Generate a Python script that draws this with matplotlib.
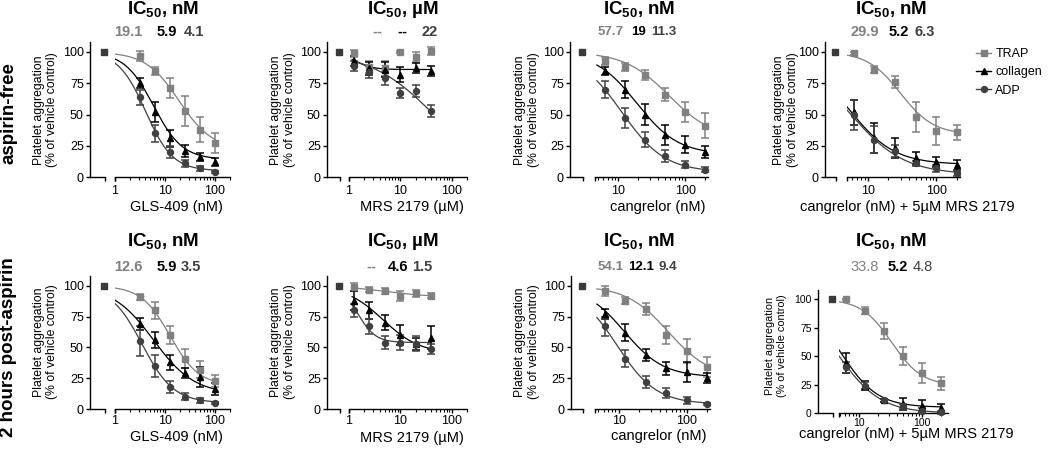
import numpy as np
import matplotlib
matplotlib.use('Agg')
import matplotlib.pyplot as plt
from matplotlib.lines import Line2D
from matplotlib.ticker import FixedLocator, FixedFormatter, LogLocator, NullFormatter

plt.rcParams['font.family'] = ['Liberation Sans', 'DejaVu Sans']
plt.rcParams['mathtext.fontset'] = 'custom'
plt.rcParams['mathtext.rm'] = 'Liberation Sans'
plt.rcParams['mathtext.bf'] = 'Liberation Sans:bold'

W, H = 1050, 449

series = ['TRAP', 'collagen', 'ADP']
colors = ['#808080', '#000000', '#404040']
markers = ['s', '^', 'o']
control = 100

gls_x = [3.125, 6.25, 12.5, 25, 50, 100]
mrs_x = [1.25, 2.5, 5, 10, 20, 40]
cang_x = [6.25, 12.5, 25, 50, 100, 200]

# fits are (top, bottom, IC50, hill) of the 4-parameter dose-response curve
# --- aspirin-free ---
p1_trap = [97, 85, 71, 53, 38, 27]
p1_trap_sd = [4, 3, 8, 12, 10, 8]
p1_coll = [75, 52, 31, 21, 16, 12]
p1_coll_sd = [4, 8, 7, 5, 3.5, 3.5]
p1_adp = [64, 35, 20, 11, 7, 4]
p1_adp_sd = [6, 7, 5, 3, 2, 1]
p1_fits = [(100, 22, 19.1, 1.3), (100, 14, 5.9, 1.5), (100, 5, 4.1, 1.6)]
p1_ic50 = ['19.1', '5.9', '4.1']

p2_trap = [99, 88, 87, 100, 96, 101]
p2_trap_sd = [3, 5, 6, 1, 4, 3]
p2_coll = [93, 87, 86, 82, 87, 85]
p2_coll_sd = [4, 5, 6, 6, 4, 4]
p2_adp = [89, 84, 79, 67, 69, 53]
p2_adp_sd = [4, 5, 5, 4, 5, 5]
p2_fits = [None, (100, 86, 1.3, 2.5), (100, 0, 45, 0.7)]
p2_ic50 = ['--', '--', '22']

p3_trap = [93, 88, 82, 66, 52, 41]
p3_trap_sd = [3, 3, 4, 5, 8, 10]
p3_coll = [85, 70, 50, 34, 26, 20]
p3_coll_sd = [3, 7, 8.5, 8, 7, 5]
p3_adp = [70, 47, 30, 17, 10, 6]
p3_adp_sd = [7, 8, 6, 5, 3, 2]
p3_fits = [(100, 30, 57.7, 1.3), (100, 18, 19, 1.4), (100, 4, 11.3, 1.35)]
p3_ic50 = ['57.7', '19', '11.3']

p4_trap = [99, 86, 76, 48, 37, 36]
p4_trap_sd = [1, 3, 5, 12, 11, 6]
p4_coll = [52, 31, 23, 15, 12, 10]
p4_coll_sd = [10, 12, 8, 5, 4, 4]
p4_adp = [50, 30, 21, 11, 7, 3]
p4_adp_sd = [12, 11, 5, 2, 3, 2]
p4_fits = [(100, 34, 30, 1.8), (100, 10, 5.2, 1.3), (100, 2, 5.5, 1.1)]
p4_ic50 = ['29.9', '5.2', '6.3']

# --- 2 hours post-aspirin ---
p5_trap = [91, 80, 60, 41, 32, 23]
p5_trap_sd = [2.5, 7, 7, 8, 7, 5]
p5_coll = [69, 56, 38, 29, 26, 16]
p5_coll_sd = [5, 6.5, 6, 4, 8, 5]
p5_adp = [55, 35, 18, 10, 7, 5]
p5_adp_sd = [12, 9, 5, 3, 2, 1]
p5_fits = [(100, 19, 12.6, 1.5), (100, 12, 5.9, 1.06), (100, 5, 3.5, 1.38)]
p5_ic50 = ['12.6', '5.9', '3.5']

p6_trap = [99, 97, 96, 92, 94, 92]
p6_trap_sd = [3, 2, 2.5, 4, 3, 2]
p6_coll = [88, 80, 70, 60, 53, 58]
p6_coll_sd = [8, 7, 6, 8, 5, 9.5]
p6_adp = [80, 67, 54, 54, 53, 49]
p6_adp_sd = [5, 6, 5, 6, 6, 4]
p6_fits = [(100, 91, 5, 1.0), (100, 45, 4.6, 1.2), (100, 54, 1.5, 2.5)]
p6_ic50 = ['--', '4.6', '1.5']

p7_trap = [96, 88, 81, 60, 47, 34]
p7_trap_sd = [4, 3, 5, 7, 9.5, 8]
p7_coll = [77, 62, 44, 33, 30, 25]
p7_coll_sd = [4, 7, 5, 5, 8, 4]
p7_adp = [67, 41, 22, 13, 7, 4]
p7_adp_sd = [8, 7, 5, 4, 3, 1]
p7_fits = [(100, 25, 54.1, 1.4), (100, 26, 12.1, 1.5), (100, 4, 9.4, 1.5)]
p7_ic50 = ['54.1', '12.1', '9.4']

p8_trap = [100, 90, 72, 50, 35, 26]
p8_trap_sd = [0.5, 3, 7, 8, 9, 6]
p8_coll = [44, 24, 11, 8, 6, 4]
p8_coll_sd = [9, 4, 1, 5, 5, 4]
p8_adp = [40, 24, 11, 6, 2, 0.5]
p8_adp_sd = [5, 3, 1, 2, 2, 1]
p8_fits = [(100, 24, 33, 1.8), (100, 5, 5.2, 1.5), (100, 0, 4.8, 1.3)]
p8_ic50 = ['33.8', '5.2', '4.8']


def fx(px):
    return px / W


def fy(py):
    return 1 - py / H


def dose_response(x, top, bottom, ic50, hill):
    return bottom + (top - bottom) / (1 + (x / ic50) ** hill)


fig = plt.figure(figsize=(W / 100, H / 100), dpi=100)


def draw_panel(ctrl, main, ytop, ybot, xlim, xticks, curve_from, x, ys, sds, fits,
               xlabel, xlab_pos, ylab_pos, title, title_pos, ic50, ic50_x, ic50_y,
               tick_fs=9, ylab_fs=8.8, val_fs=10.5, val_bold=(True, True, True), xpad=2.5):
    hgt = (ybot - ytop) / H
    axc = fig.add_axes([fx(ctrl[0]), fy(ybot), (ctrl[1] - ctrl[0]) / W, hgt])
    axm = fig.add_axes([fx(main[0]), fy(ybot), (main[1] - main[0]) / W, hgt])
    for ax in (axc, axm):
        ax.set_ylim(0, 108)
        ax.patch.set_alpha(0)
        for s in ('top', 'right'):
            ax.spines[s].set_visible(False)
        ax.spines['bottom'].set_linewidth(1.0)
        ax.spines['left'].set_linewidth(1.0)
        ax.tick_params(width=1.0, length=3, labelsize=tick_fs, pad=1.5)
    axm.spines['left'].set_visible(False)
    axm.set_yticks([])

    axc.set_xlim(0, 1)
    axc.set_xticks([1])
    axc.set_xticklabels([''])
    axc.set_yticks([0, 25, 50, 75, 100])
    axc.plot([0.9], [control], marker='s', color='#3a3a3a', ms=4.2, clip_on=False)

    axm.set_xscale('log')
    axm.set_xlim(*xlim)
    axm.xaxis.set_major_locator(FixedLocator([xlim[0]] + xticks))
    axm.xaxis.set_major_formatter(FixedFormatter([''] + [str(int(t)) for t in xticks]))
    axm.xaxis.set_minor_locator(LogLocator(base=10, subs=np.arange(2, 10)))
    axm.xaxis.set_minor_formatter(NullFormatter())
    axm.tick_params(axis='x', which='minor', length=2, width=0.8)
    axm.tick_params(axis='x', which='major', pad=xpad)

    xs = np.geomspace(curve_from, x[-1], 200)
    for i in range(3):
        if fits[i] is not None:
            axm.plot(xs, dose_response(xs, *fits[i]), color=colors[i], lw=0.9, zorder=2)
    for i in [0, 1, 2]:
        axm.errorbar(x, ys[i], yerr=sds[i], fmt=markers[i], color=colors[i], ms=4.3,
                     elinewidth=1.1, capsize=3, capthick=1.1, zorder=3, clip_on=False)

    fig.text(fx(xlab_pos[0]), fy(xlab_pos[1]), xlabel, fontsize=10.5, ha='center', va='center')
    fig.text(fx(ylab_pos[0]), fy(ylab_pos[1]), 'Platelet aggregation\n(% of vehicle control)',
             fontsize=ylab_fs, rotation=90, ha='center', va='center',
             multialignment='center', linespacing=1.15)
    fig.text(fx(title_pos[0]), fy(title_pos[1]), r'$\mathbf{IC_{50}}$, ' + title,
             fontsize=13.5, weight='bold', ha='center', va='center')
    for i in range(3):
        fig.text(fx(ic50_x[i]), fy(ic50_y), ic50[i], fontsize=val_fs, color=colors[i],
                 weight='bold' if val_bold[i] else 'normal', ha='center', va='center')
    return axm


top_t, top_b = 42, 177
bot_t, bot_b = 276, 409

draw_panel((90, 105), (115, 230), top_t, top_b, (1, 200), [1, 10, 100], 1, gls_x,
           [p1_trap, p1_coll, p1_adp], [p1_trap_sd, p1_coll_sd, p1_adp_sd], p1_fits,
           'GLS-409 (nM)', (176, 207), (45.5, 110), 'nM', (163, 9), p1_ic50,
           [128, 167, 194], 32)
draw_panel((327, 340), (349, 467), top_t, top_b, (1, 200), [1, 10, 100], 1.15, mrs_x,
           [p2_trap, p2_coll, p2_adp], [p2_trap_sd, p2_coll_sd, p2_adp_sd], p2_fits,
           'MRS 2179 (µM)', (412, 207), (283, 110), 'µM', (403, 9), p2_ic50,
           [377, 402, 430], 32)
draw_panel((570, 583), (595, 708), top_t, top_b, (4.5, 220), [10, 100], 4.8, cang_x,
           [p3_trap, p3_coll, p3_adp], [p3_trap_sd, p3_coll_sd, p3_adp_sd], p3_fits,
           'cangrelor (nM)', (658, 207), (527, 110), 'nM', (639, 9), p3_ic50,
           [611, 639, 664], 32, val_fs=9.5)
draw_panel((825, 836), (847, 960), top_t, top_b, (5, 220), [10, 100], 5, cang_x,
           [p4_trap, p4_coll, p4_adp], [p4_trap_sd, p4_coll_sd, p4_adp_sd], p4_fits,
           'cangrelor (nM) + 5µM MRS 2179', (907, 207), (786, 110), 'nM', (891, 9),
           p4_ic50, [865, 899, 925], 32)

draw_panel((90, 105), (115, 230), bot_t, bot_b, (1, 200), [1, 10, 100], 1, gls_x,
           [p5_trap, p5_coll, p5_adp], [p5_trap_sd, p5_coll_sd, p5_adp_sd], p5_fits,
           'GLS-409 (nM)', (176, 437), (45.5, 342), 'nM', (163, 241), p5_ic50,
           [128, 167, 191], 267, xpad=1.5)
draw_panel((327, 340), (349, 467), bot_t, bot_b, (1, 200), [1, 10, 100], 1.15, mrs_x,
           [p6_trap, p6_coll, p6_adp], [p6_trap_sd, p6_coll_sd, p6_adp_sd], p6_fits,
           'MRS 2179 (µM)', (412, 438), (283, 342), 'µM', (403, 241), p6_ic50,
           [371, 398, 422], 267, xpad=1.5)
draw_panel((571, 583), (595, 710), bot_t, bot_b, (4.5, 220), [10, 100], 4.8, cang_x,
           [p7_trap, p7_coll, p7_adp], [p7_trap_sd, p7_coll_sd, p7_adp_sd], p7_fits,
           'cangrelor (nM)', (659, 436), (527, 342), 'nM', (639, 241), p7_ic50,
           [611, 641, 668], 267, val_fs=9.5, xpad=1.5)
draw_panel((818, 833), (839, 948), 290, 413, (4.8, 260), [10, 100], 4.8, cang_x,
           [p8_trap, p8_coll, p8_adp], [p8_trap_sd, p8_coll_sd, p8_adp_sd], p8_fits,
           'cangrelor (nM) + 5µM MRS 2179', (906, 434), (776, 346), 'nM', (891, 241),
           p8_ic50, [865, 898, 923], 267, tick_fs=7.5, ylab_fs=7.8,
           val_bold=(False, True, False), xpad=0.8)

fig.text(fx(9), fy(113), 'aspirin-free', fontsize=13.5, weight='bold', rotation=90,
         ha='center', va='center')
fig.text(fx(9), fy(347), '2 hours post-aspirin', fontsize=13.5, weight='bold', rotation=90,
         ha='center', va='center')

handles = [Line2D([], [], color=colors[i], marker=markers[i], ms=4.3, lw=1.0) for i in range(3)]
fig.legend(handles, series, loc='upper left', bbox_to_anchor=(fx(976), fy(48)),
           frameon=False, fontsize=9, handlelength=1.2, handletextpad=0.35,
           labelspacing=0.5, borderaxespad=0, borderpad=0)

fig.savefig('out.png', dpi=100)
